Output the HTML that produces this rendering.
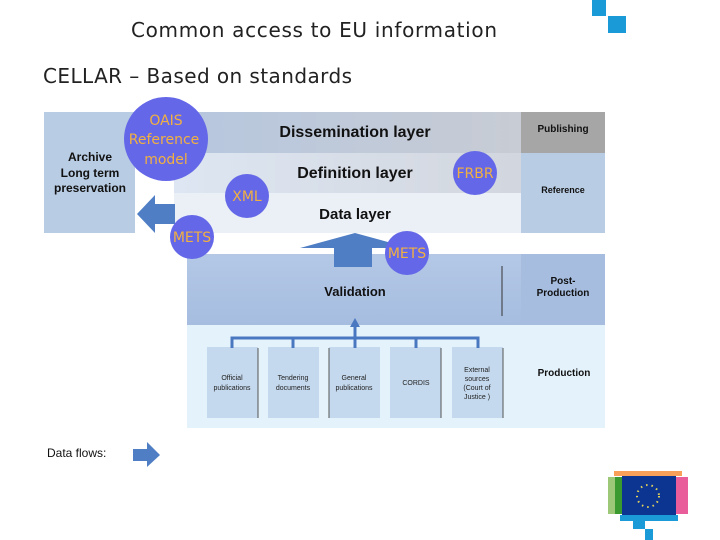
<!DOCTYPE html>
<html><head><meta charset="utf-8"><style>
body{margin:0;background:#fff;}
svg{display:block;font-family:"Liberation Sans",Arial,sans-serif;}
</style></head><body>
<svg width="720" height="540" viewBox="0 0 720 540" xmlns="http://www.w3.org/2000/svg">
<defs>
<linearGradient id="g1" x1="0" x2="1" y1="0" y2="0"><stop offset="0" stop-color="#b4c6e0"/><stop offset="1" stop-color="#c8ccd4"/></linearGradient>
<linearGradient id="g2" x1="0" x2="1" y1="0" y2="0"><stop offset="0" stop-color="#dde6f2"/><stop offset="1" stop-color="#d2d6de"/></linearGradient>
<linearGradient id="g3" x1="0" x2="0" y1="0" y2="1"><stop offset="0" stop-color="#b4c8e6"/><stop offset="1" stop-color="#a6bde0"/></linearGradient>
</defs>
<rect x="592" y="0" width="14" height="16" fill="#1a9ad6"/>
<rect x="608" y="16" width="18" height="17" fill="#1a9ad6"/>
<text x="131" y="37" font-family="DejaVu Sans, sans-serif" font-size="20" fill="#222" textLength="366">Common access to EU information</text>
<text x="43" y="83" font-family="DejaVu Sans, sans-serif" font-size="20" fill="#222" textLength="309">CELLAR – Based on standards</text>

<rect x="44" y="112" width="91" height="121" fill="#b8cce4"/>
<text font-size="12" font-weight="bold" fill="#111" text-anchor="middle"><tspan x="90" y="161">Archive</tspan><tspan x="90" y="177">Long term</tspan><tspan x="90" y="192">preservation</tspan></text>
<rect x="135" y="112" width="386" height="41" fill="url(#g1)"/>
<rect x="174" y="153" width="347" height="40" fill="url(#g2)"/>
<rect x="174" y="193" width="347" height="40" fill="#ebf0f7"/>
<rect x="521" y="112" width="84" height="41" fill="#a6a6a6"/>
<rect x="521" y="153" width="84" height="80" fill="#b8cce4"/>
<text x="355" y="137" font-size="16" font-weight="bold" text-anchor="middle" fill="#111">Dissemination layer</text>
<text x="355" y="178" font-size="16" font-weight="bold" text-anchor="middle" fill="#111">Definition layer</text>
<text x="355" y="219" font-size="15" font-weight="bold" text-anchor="middle" fill="#111">Data layer</text>
<text x="563" y="132" font-size="10" font-weight="bold" text-anchor="middle" fill="#111">Publishing</text>
<text x="563" y="193" font-size="9" font-weight="bold" text-anchor="middle" fill="#111">Reference</text>

<rect x="187" y="254" width="418" height="71" fill="url(#g3)"/>
<rect x="521" y="254" width="84" height="71" fill="#a6bde0"/>
<line x1="502" y1="266" x2="502" y2="316" stroke="#333" stroke-width="1"/>
<text x="355" y="296" font-size="13" font-weight="bold" text-anchor="middle" fill="#111">Validation</text>
<text font-size="10" font-weight="bold" text-anchor="middle" fill="#111"><tspan x="563" y="284">Post-</tspan><tspan x="563" y="296">Production</tspan></text>
<rect x="187" y="325" width="418" height="103" fill="#e4f2fc"/>
<text x="564" y="376" font-size="10" font-weight="bold" text-anchor="middle" fill="#111">Production</text>
<g fill="#c5d9ee">
<rect x="207" y="347" width="51" height="71"/><rect x="268" y="347" width="51" height="71"/><rect x="329" y="347" width="51" height="71"/><rect x="390" y="347" width="51" height="71"/><rect x="452" y="347" width="51" height="71"/>
</g>
<g stroke="#555" stroke-width="1"><line x1="258" y1="348" x2="258" y2="418"/><line x1="329" y1="348" x2="329" y2="418"/><line x1="441" y1="348" x2="441" y2="418"/><line x1="503" y1="348" x2="503" y2="418"/></g>
<g font-size="7" fill="#222" text-anchor="middle">
<text><tspan x="232" y="380">Official</tspan><tspan x="232" y="390">publications</tspan></text>
<text><tspan x="293" y="380">Tendering</tspan><tspan x="293" y="390">documents</tspan></text>
<text><tspan x="354" y="380">General</tspan><tspan x="354" y="390">publications</tspan></text>
<text x="416" y="385">CORDIS</text>
<text><tspan x="477" y="372">External</tspan><tspan x="477" y="381">sources</tspan><tspan x="477" y="390">(Court of</tspan><tspan x="477" y="399">Justice   )</tspan></text>
</g>
<g stroke="#4a78c0" stroke-width="3" fill="none">
<path d="M232 348 V338 H478 V348"/><line x1="293" y1="338" x2="293" y2="348"/><line x1="416" y1="338" x2="416" y2="348"/><line x1="355" y1="348" x2="355" y2="325"/>
</g>
<polygon points="355,318 350,327 360,327" fill="#4a78c0"/>

<polygon points="175,204 155,204 155,195 137,214 155,233 155,224 175,224" fill="#4f7ec4"/>
<polygon points="300,248 355,233 410,248 372,248 372,267 334,267 334,248" fill="#4f7ec4"/>

<g fill="#6468e8"><circle cx="166" cy="139" r="42"/><circle cx="247" cy="196" r="22"/><circle cx="475" cy="173" r="22"/><circle cx="192" cy="237" r="22"/><circle cx="407" cy="253" r="22"/></g>
<g font-family="DejaVu Sans, sans-serif" font-size="14" fill="#f2b040" text-anchor="middle">
<text><tspan x="166" y="125">OAIS</tspan><tspan x="164" y="144">Reference</tspan><tspan x="166" y="164">model</tspan></text>
<text x="247" y="201">XML</text><text x="475" y="178">FRBR</text><text x="192" y="242">METS</text><text x="407" y="258">METS</text>
</g>

<text x="47" y="457" font-size="12" fill="#111">Data flows:</text>
<polygon points="133,449 147,449 147,442 160,455 147,467 147,461 133,461" fill="#4f7ec4"/>

<rect x="614" y="471" width="68" height="5" fill="#f8a05a"/>
<rect x="608" y="477" width="14" height="37" fill="#9cc878"/>
<rect x="615" y="477" width="7" height="37" fill="#3a9a30"/>
<rect x="676" y="477" width="12" height="37" fill="#e85d9a"/>
<rect x="622" y="476" width="54" height="40" fill="#0c3592"/>
<rect x="620" y="515" width="58" height="6" fill="#1a9ad6"/>
<rect x="633" y="521" width="12" height="8" fill="#1a9ad6"/>
<rect x="645" y="529" width="8" height="11" fill="#1a9ad6"/>
<circle cx="648" cy="496" r="11" fill="none" stroke="#e6d45a" stroke-width="2" stroke-dasharray="1.5 4"/>
</svg>
</body></html>
